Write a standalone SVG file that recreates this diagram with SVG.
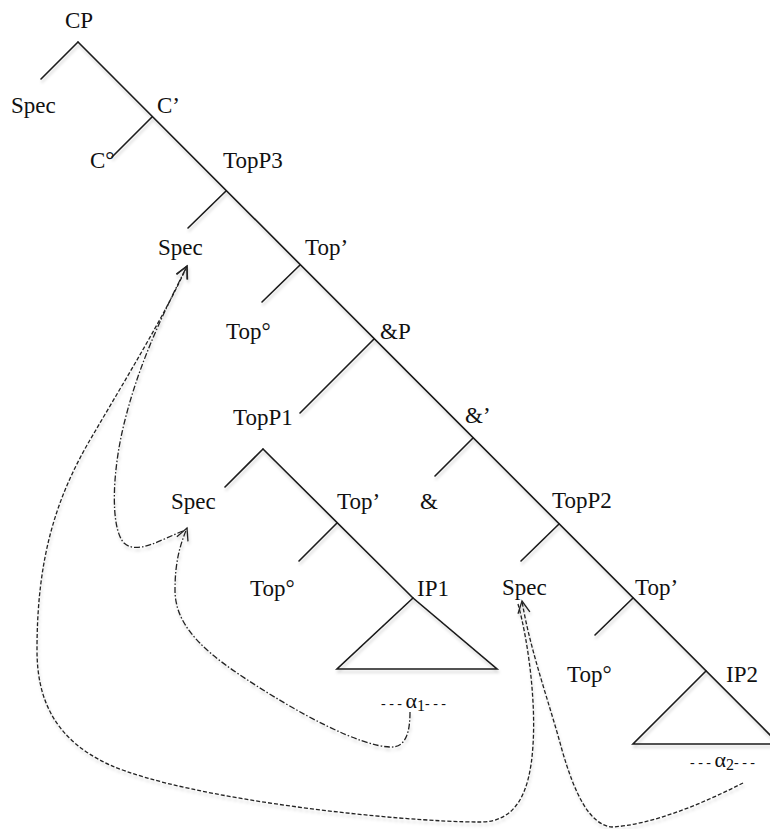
<svg xmlns="http://www.w3.org/2000/svg" width="770" height="829" viewBox="0 0 770 829">
<defs>
<style>
.lbl{font-family:"Liberation Serif","Times New Roman",serif;font-size:23px;fill:#111}
.sm{font-family:"Liberation Serif","Times New Roman",serif;font-size:14px;fill:#111}
.tree{stroke:#1a1a1a;stroke-width:1.6;fill:none;stroke-linecap:round}
.dd{stroke:#222;stroke-width:1.3;fill:none;stroke-dasharray:6,2,1.5,2}
.ds{stroke:#222;stroke-width:1.3;fill:none;stroke-dasharray:4,2}
</style>
<filter id="sh" x="-5%" y="-5%" width="110%" height="110%">
<feDropShadow dx="1" dy="3" stdDeviation="1.5" flood-color="#000" flood-opacity="0.18"/>
</filter>
<marker id="ah" viewBox="-13 -7 15 14" refX="0" refY="0" markerWidth="15" markerHeight="14" markerUnits="userSpaceOnUse" orient="auto">
<path d="M-12,-6 L0,0 L-12,6" fill="none" stroke="#222" stroke-width="1.3"/>
</marker>
</defs>
<rect width="770" height="829" fill="#fff"/>
<g id="connectors" filter="url(#sh)">
<g class="tree">
<path d="M78,42 L780,745"/>
<path d="M78,42 L41,79"/>
<path d="M152,117 L112,157"/>
<path d="M226,191 L188,228"/>
<path d="M300,265 L262,302"/>
<path d="M374,339 L300,413"/>
<path d="M473,438 L435,476"/>
<path d="M559,524 L521,561"/>
<path d="M633,598 L595,635"/>
<path d="M706,671 L633,744 L780,744"/>
<path d="M263,449 L225,487"/>
<path d="M263,449 L413,598"/>
<path d="M337,523 L299,561"/>
<path d="M413,598 L337,669 L497,669 Z"/>
</g>
<path class="dd" d="M410,712 C410,732 406,748 390,747 C360,746 300,715 240,675 C195,645 175,620 175,590 C175,562 180,545 187,528" marker-end="url(#ah)"/>
<path class="dd" d="M183,531 C160,540 137,555 124,543 C110,528 112,470 125,420 C140,360 165,310 187,266" marker-end="url(#ah)"/>
<path class="ds" d="M743,783 C700,805 650,825 612,827 C590,825 575,795 562,750 C550,705 530,650 522,601" marker-end="url(#ah)"/>
<path class="ds" d="M518,604 C528,640 536,700 533,745 C530,795 515,822 480,822 C400,822 190,800 110,765 C55,740 37,700 37,650 C37,560 55,500 90,440 C125,380 165,315 187,266" marker-end="url(#ah)"/>
</g>
<g id="n-cp"><text class="lbl" x="65" y="28">CP</text></g>
<g id="n-spec0"><text class="lbl" x="11" y="113">Spec</text></g>
<g id="n-cbar"><text class="lbl" x="157" y="113">C’</text></g>
<g id="n-c0"><text class="lbl" x="90" y="168">C°</text></g>
<g id="n-topp3"><text class="lbl" x="223" y="168">TopP3</text></g>
<g id="n-spec3"><text class="lbl" x="158" y="255">Spec</text></g>
<g id="n-topbar3"><text class="lbl" x="305" y="255">Top’</text></g>
<g id="n-top03"><text class="lbl" x="226" y="339">Top°</text></g>
<g id="n-andp"><text class="lbl" x="380" y="339">&amp;P</text></g>
<g id="n-topp1"><text class="lbl" x="233" y="425">TopP1</text></g>
<g id="n-andbar"><text class="lbl" x="465" y="423">&amp;’</text></g>
<g id="n-spec1"><text class="lbl" x="171" y="509">Spec</text></g>
<g id="n-topbar1"><text class="lbl" x="337" y="509">Top’</text></g>
<g id="n-and"><text class="lbl" x="420" y="509">&amp;</text></g>
<g id="n-top01"><text class="lbl" x="250" y="596">Top°</text></g>
<g id="n-ip1"><text class="lbl" x="417" y="596">IP1</text></g>
<g id="n-topp2"><text class="lbl" x="552" y="508">TopP2</text></g>
<g id="n-spec2"><text class="lbl" x="502" y="595">Spec</text></g>
<g id="n-topbar2"><text class="lbl" x="635" y="595">Top’</text></g>
<g id="n-top02"><text class="lbl" x="567" y="682">Top°</text></g>
<g id="n-ip2"><text class="lbl" x="726" y="682">IP2</text></g>
<g id="n-a1"><text class="sm" x="381" y="708">- - - <tspan font-size="22">α</tspan><tspan dy="3" font-size="16">1</tspan><tspan dy="-3">- - -</tspan></text></g>
<g id="n-a2"><text class="sm" x="690" y="767">- - - <tspan font-size="22">α</tspan><tspan dy="3" font-size="16">2</tspan><tspan dy="-3">- - -</tspan></text></g>
</svg>
